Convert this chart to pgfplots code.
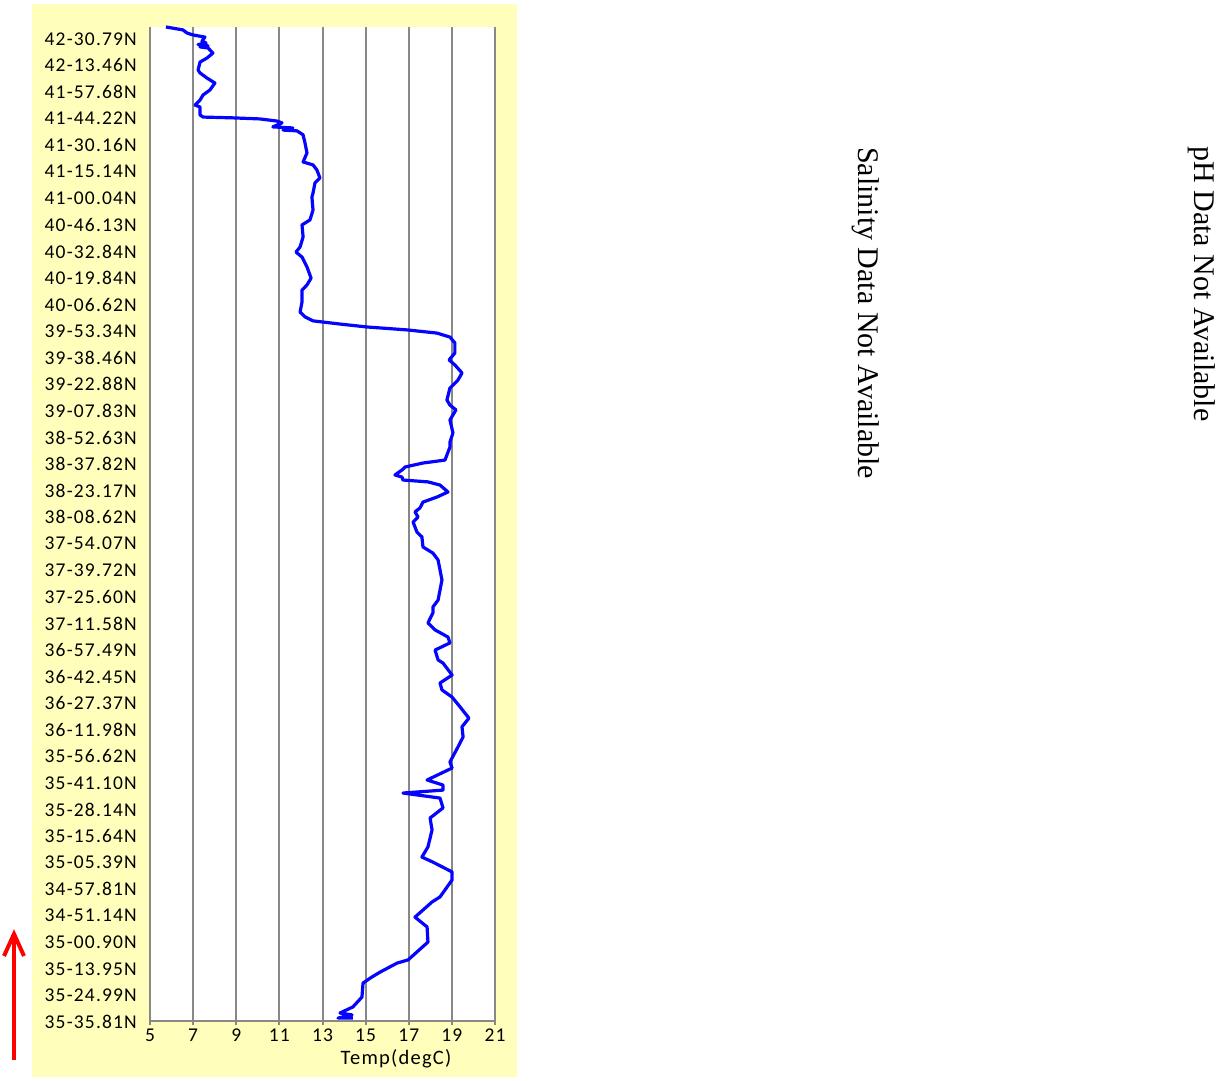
\documentclass[border=0pt]{standalone}
\usepackage{pgfplots}
\pgfplotsset{compat=1.18}
\usepackage{fontspec}
\setmainfont{Liberation Serif}
\newfontfamily\calfont[LetterSpace=6]{Carlito}
\definecolor{panel}{RGB}{255,255,187}
\definecolor{gridg}{RGB}{136,136,136}
\begin{document}
\begin{tikzpicture}[x=1pt,y=1pt]
\useasboundingbox (0,0) rectangle (1226,1080);
\fill[panel] (32,3) rectangle (517,1076);
\begin{axis}[at={(150pt,59pt)}, anchor=south west, scale only axis,
  width=345pt, height=994pt,
  xmin=5, xmax=21, ymin=0, ymax=37.41,
  xtick={5,7,...,21}, ytick={0,...,37},
  yticklabels={35-35.81N,35-24.99N,35-13.95N,35-00.90N,34-51.14N,34-57.81N,35-05.39N,35-15.64N,35-28.14N,35-41.10N,35-56.62N,36-11.98N,36-27.37N,36-42.45N,36-57.49N,37-11.58N,37-25.60N,37-39.72N,37-54.07N,38-08.62N,38-23.17N,38-37.82N,38-52.63N,39-07.83N,39-22.88N,39-38.46N,39-53.34N,40-06.62N,40-19.84N,40-32.84N,40-46.13N,41-00.04N,41-15.14N,41-30.16N,41-44.22N,41-57.68N,42-13.46N,42-30.79N},
  axis background/.style={fill=white},
  axis lines*=left,
  axis line style={gridg, line width=2pt},
  xmajorgrids, major grid style={gridg, line width=2pt},
  tick align=outside,
  xtick style={gridg, line width=2pt},
  major tick length=4pt,
  ytick style={draw=none},
  /pgf/number format/assume math mode=true,
  tick label style={font=\calfont\fontsize{19.5}{22}\selectfont, text=black},
  yticklabel style={inner sep=0pt, anchor=east, xshift=-9pt, yshift=-1pt},
  xticklabel style={inner sep=0pt, anchor=north, yshift=-4pt},
  clip=false,
]
\addplot[color={rgb,255:red,5;green,5;blue,255}, line width=3.2pt, line join=round] coordinates {
(5.74,37.41) (6.53,37.30) (6.72,37.18) (7.00,37.11) (7.55,37.03) (7.41,36.88) (7.60,36.81) (7.23,36.75) (7.69,36.70) (7.32,36.66) (7.69,36.62) (7.92,36.43) (7.64,36.24) (7.32,36.09) (7.23,35.79) (7.32,35.68) (7.64,35.49) (8.01,35.30) (7.78,35.04) (7.46,34.85) (7.32,34.66) (7.09,34.47) (7.32,34.40) (7.32,34.10) (7.46,34.02) (8.85,33.99) (10.10,33.95) (10.89,33.87) (11.12,33.80) (10.70,33.65) (11.63,33.61) (11.17,33.53) (11.82,33.50) (12.10,33.35) (12.19,33.04) (12.28,32.67) (12.10,32.33) (12.56,32.22) (12.74,32.03) (12.88,31.73) (12.65,31.54) (12.56,31.16) (12.51,31.01) (12.56,30.52) (12.42,30.15) (12.05,29.96) (12.10,29.51) (11.96,29.13) (11.77,28.94) (12.05,28.75) (12.28,28.38) (12.47,27.96) (12.28,27.70) (12.05,27.51) (12.05,27.06) (11.96,26.68) (12.19,26.50) (12.56,26.35) (13.81,26.23) (15.06,26.12) (16.92,26.01) (18.31,25.89) (18.91,25.74) (19.14,25.52) (19.14,25.14) (18.87,24.88) (19.14,24.69) (19.47,24.39) (19.28,24.12) (18.91,23.82) (18.77,23.37) (18.91,23.18) (19.19,23.00) (18.91,22.62) (19.05,22.13) (18.91,21.79) (18.91,21.60) (18.68,21.11) (17.66,21.00) (16.83,20.85) (16.69,20.74) (16.36,20.55) (16.69,20.47) (16.73,20.36) (17.89,20.29) (18.45,20.17) (18.82,19.91) (18.31,19.72) (17.66,19.53) (17.52,19.31) (17.29,19.16) (17.43,18.97) (17.20,18.78) (17.38,18.40) (17.61,18.22) (17.66,17.84) (18.12,17.61) (18.36,17.35) (18.54,16.60) (18.36,15.84) (18.12,15.58) (18.12,15.36) (17.89,14.98) (18.22,14.72) (18.82,14.45) (18.91,14.23) (18.22,13.96) (18.36,13.59) (18.59,13.47) (19.01,13.02) (18.45,12.72) (18.54,12.46) (19.01,12.19) (19.38,11.82) (19.79,11.40) (19.47,11.07) (19.52,10.69) (19.28,10.31) (18.91,9.75) (19.01,9.52) (17.85,9.07) (18.59,8.88) (18.59,8.69) (16.73,8.58) (18.45,8.39) (18.59,8.02) (17.99,7.64) (18.08,7.19) (17.89,6.55) (17.61,6.17) (18.12,5.98) (19.01,5.61) (19.01,5.31) (18.45,4.67) (18.08,4.48) (17.29,3.91) (17.85,3.54) (17.89,2.97) (16.97,2.30) (16.46,2.18) (15.67,1.84) (15.30,1.66) (14.88,1.43) (14.83,0.90) (14.41,0.53) (13.81,0.30) (14.37,0.23) (13.72,0.11) (14.41,0.11)
};
\end{axis}
\node[font=\calfont\fontsize{20.5}{24}\selectfont, anchor=base] at (396,16) {Temp(degC)};
\node[rotate=-90, anchor=base, font=\fontsize{30}{36}\selectfont] at (858,767) {Salinity Data Not Available};
\node[rotate=-90, anchor=base, font=\fontsize{30}{36}\selectfont] at (1194,796) {pH Data Not Available};
\draw[red, line width=4pt] (14,20) -- (14,143);
\draw[red, line width=4pt, line join=miter, line cap=butt] (4,124) -- (14,146) -- (24,124);
\end{tikzpicture}
\end{document}
